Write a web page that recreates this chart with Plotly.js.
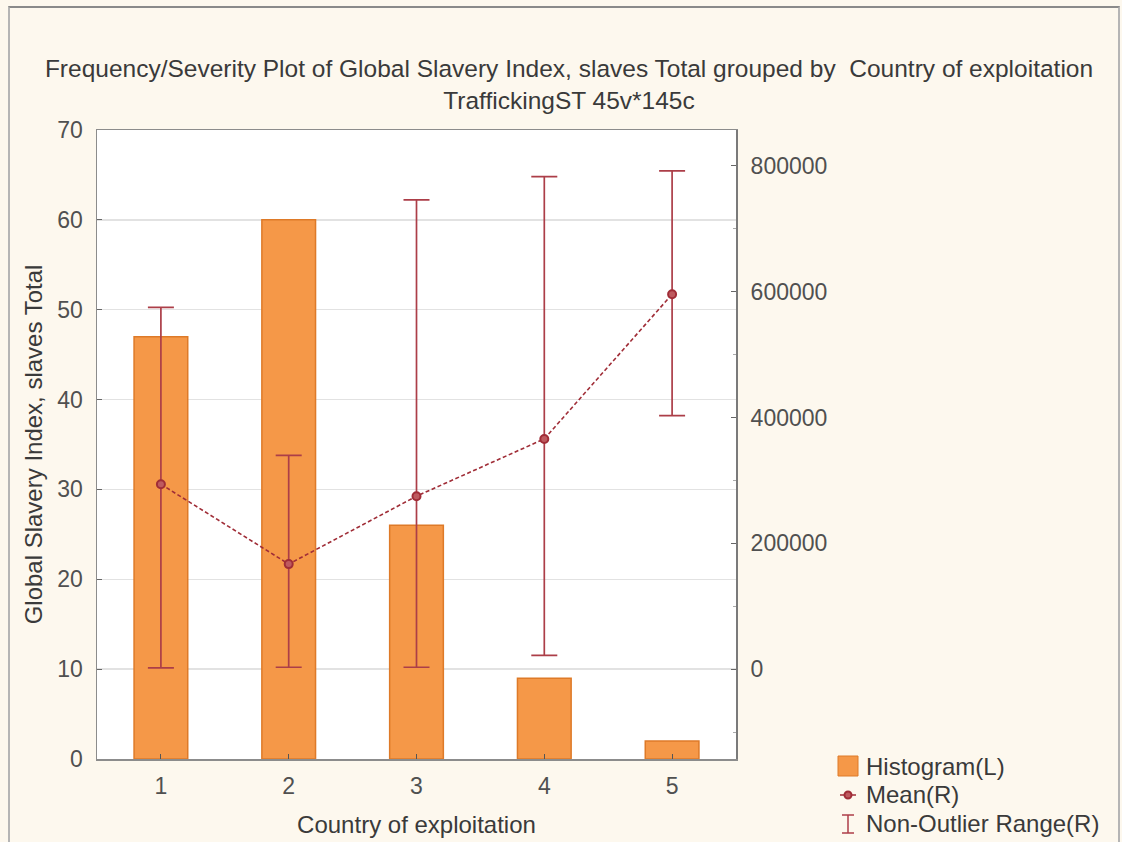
<!DOCTYPE html>
<html>
<head>
<meta charset="utf-8">
<script src="https://cdn.plot.ly/plotly-3.0.1.min.js"></script>
<style>
  html, body { margin: 0; padding: 0; background: #fdf8ee; }
  #wrap { position: relative; width: 1122px; height: 842px; overflow: hidden; background: #fdf8ee; }
  #frame { position: absolute; left: 8px; top: 6px; width: 1108px; height: 850px;
           border-top: 2px solid #8a8a8a; border-left: 2px solid #b5b5b5; border-right: 2px solid #b5b5b5; }
  #chart { position: absolute; left: 0; top: 0; width: 1122px; height: 842px; }
</style>
</head>
<body>
<div id="wrap">
  <div id="frame"></div>
  <div id="chart"></div>
</div>
<script>
// ---- data ----
const categories = [1, 2, 3, 4, 5];
const histogramCounts = [47, 60, 26, 9, 2];
const meanValues = [294000, 167000, 275000, 366000, 596000];
const rangeHigh = [575000, 340000, 746000, 783000, 792000];
const rangeLow = [2000, 3000, 3000, 22000, 403000];
const leftTicks = [0, 10, 20, 30, 40, 50, 60, 70];
const rightTicks = [0, 200000, 400000, 600000, 800000];
const legendLabels = ["Histogram(L)", "Mean(R)", "Non-Outlier Range(R)"];

const errPlus = meanValues.map((m, i) => rangeHigh[i] - m);
const errMinus = meanValues.map((m, i) => m - rangeLow[i]);

const FONT = "Liberation Sans, Arial, sans-serif";
const TXT = "#3a3a3a";
const TICK = "#505050";
const BAR = "rgb(245,152,72)";
const BAR_LINE = "rgb(222,122,40)";
const RED = "rgb(160,45,55)";
const RED_EB = "rgb(172,62,72)";

// plot area in pixels
const L = 97, R = 736, T = 130, B = 759;
const W = R - L, H = B - T;
const px = x => (x - L) / W;
const py = y => (B - y) / H;

const traces = [
  {
    type: "bar", x: categories, y: histogramCounts, name: legendLabels[0],
    width: 0.42, yaxis: "y",
    marker: { color: BAR, line: { color: BAR_LINE, width: 1.5 } },
    showlegend: false, hoverinfo: "x+y"
  },
  {
    type: "scatter", mode: "markers", x: categories, y: meanValues, name: legendLabels[2],
    yaxis: "y2", marker: { size: 1, color: "rgba(0,0,0,0)" },
    error_y: { type: "data", symmetric: false, array: errPlus, arrayminus: errMinus,
               color: RED_EB, thickness: 1.7, width: 13 },
    showlegend: false
  },
  {
    type: "scatter", mode: "lines+markers", x: categories, y: meanValues, name: legendLabels[1],
    yaxis: "y2",
    line: { color: RED, width: 1.6, dash: "4px,2.5px" },
    marker: { symbol: "circle", size: 8, color: "rgb(190,90,95)", line: { color: RED, width: 2 } },
    showlegend: false
  }
];

const shapes = [
  // legend: histogram square
  { type: "rect", xref: "paper", yref: "paper",
    x0: px(838), x1: px(858), y0: py(776), y1: py(756),
    fillcolor: BAR, line: { color: BAR_LINE, width: 1 } },
  // legend: mean marker
  { type: "line", xref: "paper", yref: "paper", x0: px(840), x1: px(856), y0: py(795), y1: py(795),
    line: { color: RED, width: 1.5 } },
  { type: "circle", xref: "paper", yref: "paper", x0: px(844.5), x1: px(851.5), y0: py(798.5), y1: py(791.5),
    fillcolor: "rgb(190,90,95)", line: { color: RED, width: 2 } },
  // legend: I-beam
  { type: "line", xref: "paper", yref: "paper", x0: px(848), x1: px(848), y0: py(815), y1: py(833),
    line: { color: RED_EB, width: 1.5 } },
  { type: "line", xref: "paper", yref: "paper", x0: px(842), x1: px(854), y0: py(815), y1: py(815),
    line: { color: RED_EB, width: 1.5 } },
  { type: "line", xref: "paper", yref: "paper", x0: px(842), x1: px(854), y0: py(833), y1: py(833),
    line: { color: RED_EB, width: 1.5 } }
];

const LEG_SIZE = 24;
const annotations = legendLabels.map((t, i) => ({
  text: t, xref: "paper", yref: "paper", x: px(864), y: py(766 + 29 * i),
  xanchor: "left", yanchor: "middle", showarrow: false,
  font: { family: FONT, size: LEG_SIZE, color: TXT }
}));

const layout = {
  width: 1122, height: 842,
  paper_bgcolor: "rgba(0,0,0,0)",
  plot_bgcolor: "#ffffff",
  margin: { l: L, r: 1122 - R, t: T, b: 842 - B, pad: 0 },
  showlegend: false,
  title: {
    text: "Frequency/Severity Plot of Global Slavery Index, slaves Total grouped by  Country of exploitation<br>TraffickingST 45v*145c",
    font: { family: FONT, size: 24.5, color: TXT },
    x: 569 / 1122, xanchor: "center", xref: "container",
    y: 1 - 77 / 842, yanchor: "middle", yref: "container"
  },
  xaxis: {
    range: [0.5, 5.5], tickvals: categories, ticktext: categories.map(String),
    showgrid: false, zeroline: false,
    showline: true, linecolor: "#8c8c8c", linewidth: 1.5, mirror: true,
    ticks: "inside", ticklen: 5, tickcolor: "#555",
    tickfont: { family: FONT, size: 23, color: TICK },
    ticklabelstandoff: 6,
    title: { text: "Country of exploitation", font: { family: FONT, size: 24, color: TXT }, standoff: 18 },
    fixedrange: true
  },
  yaxis: {
    range: [0, 70], tickvals: leftTicks,
    showgrid: true, gridcolor: "#e2e2e2", gridwidth: 1.5, zeroline: false,
    showline: true, linecolor: "#8c8c8c", linewidth: 1.5, mirror: false,
    ticks: "inside", ticklen: 5, tickcolor: "#666",
    tickfont: { family: FONT, size: 23, color: TICK },
    ticklabelstandoff: 8,
    title: { text: "Global Slavery Index, slaves Total", font: { family: FONT, size: 24, color: TXT }, standoff: 8 },
    fixedrange: true
  },
  yaxis2: {
    overlaying: "y", side: "right",
    range: [-142857, 857143], tickvals: rightTicks, tickformat: "d",
    showgrid: false, zeroline: false,
    showline: true, linecolor: "#7a7a7a", linewidth: 2,
    ticks: "inside", ticklen: 5, tickcolor: "#666",
    minor: { dtick: 100000, ticks: "inside", ticklen: 3, tickcolor: "#aaa" },
    tickfont: { family: FONT, size: 23, color: TICK },
    ticklabelstandoff: 8,
    fixedrange: true
  },
  shapes: shapes,
  annotations: annotations
};

Plotly.newPlot("chart", traces, layout, { displayModeBar: false, staticPlot: true });
</script>
</body>
</html>
